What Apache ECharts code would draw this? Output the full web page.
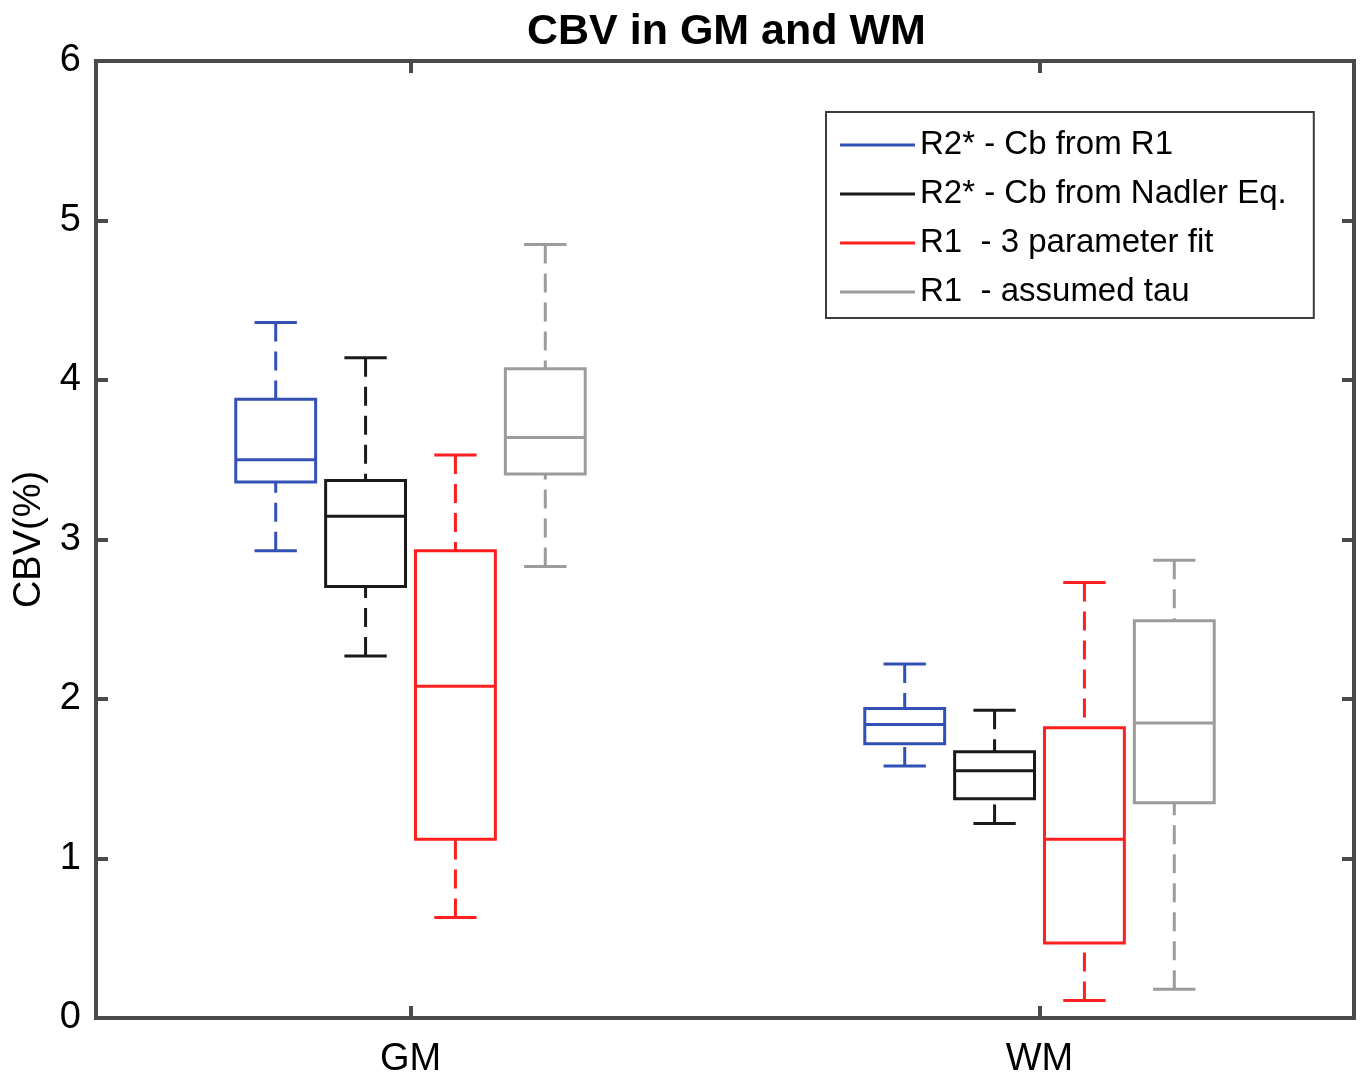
<!DOCTYPE html>
<html>
<head>
<meta charset="utf-8">
<script src="https://cdn.jsdelivr.net/npm/echarts@6/dist/echarts.min.js"></script>
<style>
html,body{margin:0;padding:0;background:#fff;}
#chart{width:1363px;height:1074px;}
</style>
</head>
<body>
<div id="chart"></div>
<script>
// ---- data (each row: [min, Q1, median, Q3, max]) ----
const categories = ['GM', 'WM'];
const seriesNames = ['R2* - Cb from R1', 'R2* - Cb from Nadler Eq.', 'R1  - 3 parameter fit', 'R1  - assumed tau'];
const r2CbFromR1 = [[2.93, 3.36, 3.50, 3.88, 4.36], [1.58, 1.72, 1.84, 1.94, 2.22]];
const r2CbNadler = [[2.27, 2.705, 3.145, 3.37, 4.14], [1.22, 1.375, 1.55, 1.67, 1.93]];
const r1ThreeParam = [[0.63, 1.12, 2.08, 2.93, 3.53], [0.11, 0.47, 1.12, 1.82, 2.73]];
const r1AssumedTau = [[2.83, 3.41, 3.64, 4.07, 4.85], [0.18, 1.35, 1.85, 2.49, 2.87]];
const yMin = 0, yMax = 6, yStep = 1;

const seriesValues = [r2CbFromR1, r2CbNadler, r1ThreeParam, r1AssumedTau];
const colors = ['#3350b4', '#1a1a1a', '#ff1f1f', '#9c9c9c'];
const FONT = '"Liberation Sans", Arial, Helvetica, sans-serif';
const AXIS_COLOR = '#4a4a4a';

function makeRender(k, color) {
  return function (params, api) {
    const cat = api.value(0);
    const band = api.size([1, 0])[0];
    const cx = api.coord([cat, 0])[0] + (k - 1.5) * band / 7;
    const boxW = band * 80 / 630;
    const capW = boxW * 0.53;
    const yv = i => api.coord([cat, api.value(i)])[1];
    const pMin = yv(1), pQ1 = yv(2), pMed = yv(3), pQ3 = yv(4), pMax = yv(5);
    const solid = { stroke: color, lineWidth: 3, fill: null };
    const dashed = { stroke: color, lineWidth: 3, lineDash: [19, 10], fill: null };
    return {
      type: 'group',
      children: [
        { type: 'line', shape: { x1: cx, y1: pMax, x2: cx, y2: pQ3 }, style: dashed },
        { type: 'line', shape: { x1: cx, y1: pMin, x2: cx, y2: pQ1 }, style: dashed },
        { type: 'rect', shape: { x: cx - boxW / 2, y: pQ3, width: boxW, height: pQ1 - pQ3 }, style: solid },
        { type: 'line', shape: { x1: cx - boxW / 2, y1: pMed, x2: cx + boxW / 2, y2: pMed }, style: solid },
        { type: 'line', shape: { x1: cx - capW / 2, y1: pMax, x2: cx + capW / 2, y2: pMax }, style: solid },
        { type: 'line', shape: { x1: cx - capW / 2, y1: pMin, x2: cx + capW / 2, y2: pMin }, style: solid }
      ]
    };
  };
}

const series = seriesValues.map((vals, k) => ({
  name: seriesNames[k],
  type: 'custom',
  xAxisIndex: 0,
  yAxisIndex: 0,
  clip: false,
  itemStyle: { color: colors[k] },
  encode: { x: 0, y: [1, 2, 3, 4, 5] },
  data: vals.map((v, i) => [i].concat(v)),
  renderItem: makeRender(k, colors[k])
}));

const lineStyle = { color: AXIS_COLOR, width: 4, cap: 'square' };
const tickStyle = { color: AXIS_COLOR, width: 4 };

const chart = echarts.init(document.getElementById('chart'), null, { renderer: 'canvas' });
chart.setOption({
  animation: false,
  backgroundColor: '#fff',
  title: {
    text: 'CBV in GM and WM',
    left: 522,
    top: 6,
    textStyle: { fontFamily: FONT, fontSize: 43, fontWeight: 'bold', color: '#000' }
  },
  legend: {
    orient: 'vertical',
    left: 826,
    top: 112,
    padding: [13, 27, 6, 14],
    itemGap: 9,
    itemWidth: 75,
    itemHeight: 3,
    backgroundColor: '#fff',
    borderColor: '#3c3c3c',
    borderWidth: 2,
    borderRadius: 0,
    selectedMode: false,
    textStyle: { fontFamily: FONT, fontSize: 33, color: '#000', lineHeight: 40 },
    data: seriesNames.map((n, i) => ({ name: n, icon: 'rect', itemStyle: { color: colors[i], borderWidth: 0 } }))
  },
  grid: { left: 96, right: 9, top: 61, bottom: 56, containLabel: false, outerBoundsMode: 'none' },
  xAxis: [
    {
      type: 'category', data: categories, position: 'bottom', boundaryGap: true,
      axisLine: { show: true, onZero: false, lineStyle: lineStyle },
      axisTick: { show: true, inside: true, length: 12, alignWithLabel: true, interval: 0, lineStyle: tickStyle },
      axisLabel: { margin: 23, interval: 0, fontFamily: FONT, fontSize: 38, color: '#000' },
      splitLine: { show: false }
    },
    {
      type: 'value', position: 'top', min: 0, max: categories.length,
      axisLine: { show: true, onZero: false, lineStyle: lineStyle },
      axisTick: { show: true, inside: true, length: 12, customValues: categories.map((c, i) => i + 0.5), lineStyle: tickStyle },
      axisLabel: { show: false },
      splitLine: { show: false }
    }
  ],
  yAxis: [
    {
      type: 'value', min: yMin, max: yMax, interval: yStep, position: 'left',
      name: 'CBV(%)', nameLocation: 'middle', nameGap: 47, nameRotate: 90,
      nameTextStyle: { fontFamily: FONT, fontSize: 38, color: '#000' },
      axisLine: { show: true, onZero: false, lineStyle: lineStyle },
      axisTick: { show: true, inside: true, length: 12, lineStyle: tickStyle },
      axisLabel: { margin: 15, fontFamily: FONT, fontSize: 38, color: '#000' },
      splitLine: { show: false }
    },
    {
      type: 'value', min: yMin, max: yMax, interval: yStep, position: 'right',
      axisLine: { show: true, onZero: false, lineStyle: lineStyle },
      axisTick: { show: true, inside: true, length: 12, lineStyle: tickStyle },
      axisLabel: { show: false },
      splitLine: { show: false }
    }
  ],
  series: series
});
</script>
</body>
</html>
